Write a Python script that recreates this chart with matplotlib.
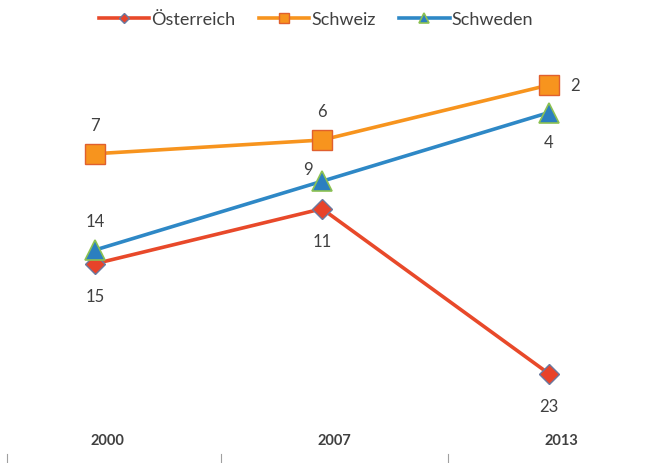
import matplotlib
matplotlib.use('Agg')
import matplotlib.pyplot as plt
from matplotlib.transforms import ScaledTranslation

plt.rcParams['font.family'] = ['Lato', 'DejaVu Sans']

years = ['2000', '2007', '2013']
oesterreich = [15, 11, 23]
schweiz = [7, 6, 2]
schweden = [14, 9, 4]

fig = plt.figure(figsize=(6.54, 4.64), dpi=100)
ax = fig.add_axes([0, 44 / 464, 1, 370 / 464])

x = list(range(len(years)))

# Linien: Rangplatz, daher y-Achse umgedreht
ax.plot(x, oesterreich, color='#e8492a', lw=2.6, marker='D', markersize=10,
        markerfacecolor='#e8432a', markeredgecolor='#6a7aa0', markeredgewidth=1,
        label='Österreich', zorder=3)
ax.plot(x, schweiz, color='#f7941e', lw=2.6, marker='s', markersize=14,
        markerfacecolor='#f7941e', markeredgecolor='#e0602e', markeredgewidth=1,
        label='Schweiz', zorder=3)
ax.plot(x, schweden, color='#2e88c6', lw=2.6, marker='^', markersize=14,
        markerfacecolor='#2b7fc0', markeredgecolor='#8cc152', markeredgewidth=1.2,
        label='Schweden', zorder=4)

txt = dict(fontsize=12, color='#404040', ha='center', va='center')
for i, v in enumerate(oesterreich):
    ax.annotate(str(v), (i, v), xytext=(0, -23), textcoords='offset points', **txt)
for i, v in enumerate(schweiz):
    off = (19, 0) if i == 2 else (0, 21)
    ax.annotate(str(v), (i, v), xytext=off, textcoords='offset points', **txt)
schweden_off = [(0, 21), (-10, 9), (0, -21)]
for i, v in enumerate(schweden):
    ax.annotate(str(v), (i, v), xytext=schweden_off[i], textcoords='offset points', **txt)

ax.set_xlim(-95 / 227, 559 / 227)
ax.set_ylim(26.29, -0.618)

for s in ax.spines.values():
    s.set_visible(False)
ax.set_yticks([])
ax.set_xticks(x)
ax.set_xticklabels(years, fontsize=10.5, fontweight='bold', color='#404040')
ax.tick_params(axis='x', length=0, pad=10)
shift = ScaledTranslation(12 / 100, 0, fig.dpi_scale_trans)
for lab in ax.get_xticklabels():
    lab.set_transform(lab.get_transform() + shift)

# kleine Trennstriche zwischen den Kategorien
tr = ax.get_xaxis_transform() + shift
for b in [-0.44, 0.5, 1.5]:
    ax.plot([b, b], [-35 / 370, -46 / 370], transform=tr, color='#a0a0a0',
            lw=0.8, clip_on=False)

ax.legend(loc='center', bbox_to_anchor=(0.483, 1.08), ncol=3, frameon=False,
          fontsize=13, handlelength=2.8, handletextpad=0.1, columnspacing=1.3,
          markerscale=0.55, labelcolor='#404040')

fig.savefig('out.png', dpi=100)
